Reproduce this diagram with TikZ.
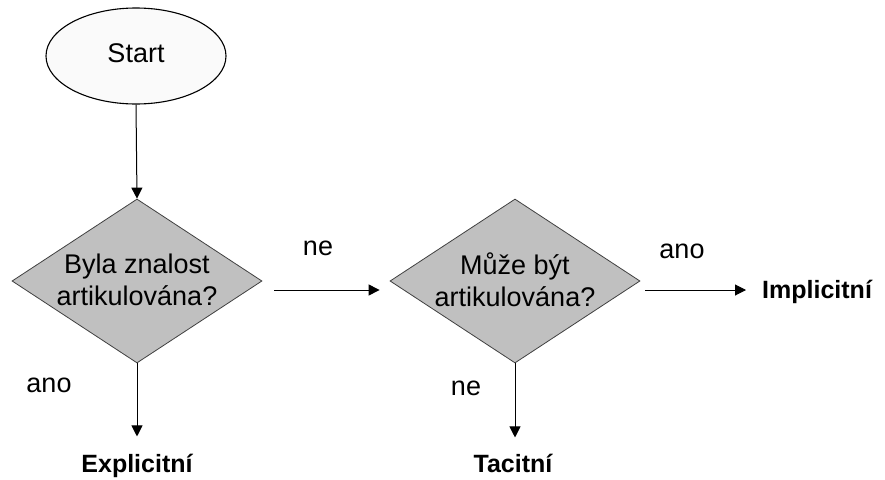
\documentclass[tikz,border=0pt]{standalone}
\usepackage{fontspec}
\setmainfont{Liberation Sans}
\usetikzlibrary{shapes.geometric,arrows.meta}
\definecolor{dgray}{RGB}{192,192,192}
\definecolor{elfill}{RGB}{250,250,250}
\begin{document}
\begin{tikzpicture}[x=1pt,y=-1pt,
  txt/.style={font=\fontsize{27}{32}\selectfont, align=center, inner sep=0pt},
  res/.style={font=\fontsize{25}{28}\selectfont\bfseries, inner sep=0pt},
  startbox/.style={ellipse, draw=black, line width=1.1pt, fill=elfill, minimum width=180pt, minimum height=96pt, inner sep=0pt},
  decbox/.style={diamond, draw=black!75, line width=0.8pt, fill=dgray, minimum width=250pt, minimum height=164pt, inner sep=0pt},
  arr/.style={line width=1pt, -{Triangle[length=11pt,width=11pt]}}]
\useasboundingbox (0,0) rectangle (885,479);
\node[startbox] (start) at (136,56) {};
\node[txt] (starttxt) at (136,53) {Start};
\node[decbox] (d1) at (137,281) {};
\node[txt] (d1txt) at (137,280) {Byla znalost\\artikulována?};
\node[decbox] (d2) at (515,281) {};
\node[txt] (d2txt) at (515,280) {Může být\\artikulována?};
\node[res, anchor=base] (expl) at (137,472) {Explicitní};
\node[res, anchor=base] (tac) at (513,472) {Tacitní};
\node[res, anchor=base west] (impl) at (762,298) {Implicitní};
\node[txt] (l1) at (318,248) {ne};
\node[txt] (l2) at (682,251) {ano};
\node[txt] (l3) at (49,385) {ano};
\node[txt] (l4) at (466,388) {ne};
\draw[arr] (start.south) -- (d1.north);
\draw[arr] ([xshift=12pt,yshift=-9pt]d1.east) -- ([xshift=-10pt,yshift=-9pt]d2.west);
\draw[arr] ([xshift=5pt,yshift=-9pt]d2.east) coordinate (a2s) -- ([xshift=-16pt]a2s -| impl.west);
\draw[arr] (d1.south) -- ([yshift=17pt]expl.north);
\draw[arr] (d2.south) -- ([xshift=2pt,yshift=16pt]tac.north);
\end{tikzpicture}
\end{document}
